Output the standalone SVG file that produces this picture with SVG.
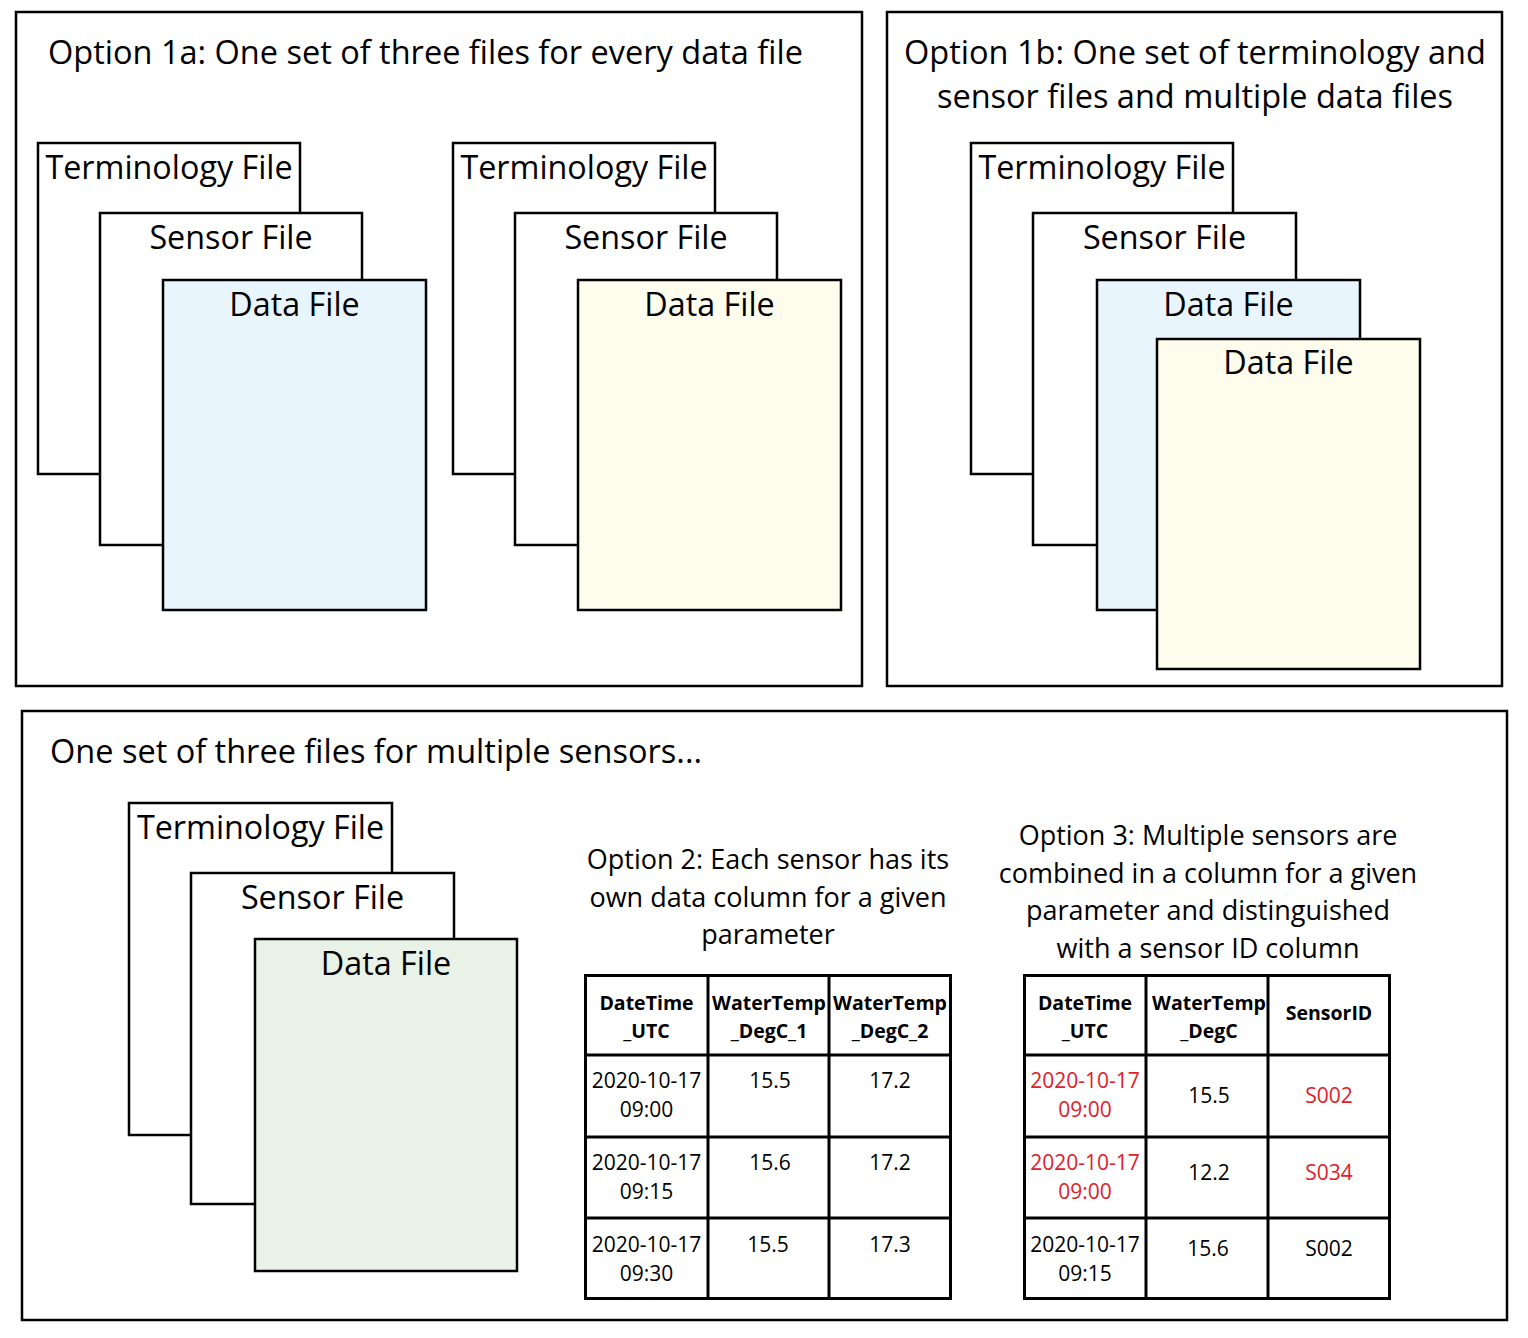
<svg xmlns="http://www.w3.org/2000/svg" width="1528" height="1338" viewBox="0 0 1528 1338">
<style>
text{font-family:"Open Sans","Liberation Sans",sans-serif;fill:#000}
.panel{fill:#fff;stroke:#000;stroke-width:2.5}
.file{stroke:#000;stroke-width:2.5}
.w{fill:#fff}.b{fill:#e9f5fd}.y{fill:#fefcec}.g{fill:#e9f2e7}
.lbl{font-size:32.3px;text-anchor:middle}
.title{font-size:32.5px}
.cap{font-size:27px;text-anchor:middle}
.grid{fill:none;stroke:#000;stroke-width:3}
.th{font-size:19.5px;font-weight:bold;text-anchor:middle}
.td{font-size:21px;text-anchor:middle}
.red{fill:#e0202a}
</style>
<rect width="1528" height="1338" fill="#fff"/>

<g id="panel-1a">
<rect class="panel" x="16" y="12" width="846" height="674"/>
<text class="title" x="48" y="64">Option 1a: One set of three files for every data file</text>
</g>
<g id="p1a-term1"><rect class="file w" x="38" y="143" width="262" height="331"/><text class="lbl" x="169" y="179">Terminology File</text></g>
<g id="p1a-sensor1"><rect class="file w" x="100" y="213" width="262" height="332"/><text class="lbl" x="231" y="249">Sensor File</text></g>
<g id="p1a-data1"><rect class="file b" x="163" y="280" width="263" height="330"/><text class="lbl" x="294.5" y="316">Data File</text></g>
<g id="p1a-term2"><rect class="file w" x="453" y="143" width="262" height="331"/><text class="lbl" x="584" y="179">Terminology File</text></g>
<g id="p1a-sensor2"><rect class="file w" x="515" y="213" width="262" height="332"/><text class="lbl" x="646" y="249">Sensor File</text></g>
<g id="p1a-data2"><rect class="file y" x="578" y="280" width="263" height="330"/><text class="lbl" x="709.5" y="316">Data File</text></g>

<g id="panel-1b">
<rect class="panel" x="887" y="12" width="615" height="674"/>
<text class="title" x="1195" y="64" text-anchor="middle">Option 1b: One set of terminology and</text>
<text class="title" x="1195" y="108" text-anchor="middle">sensor files and multiple data files</text>
</g>
<g id="p1b-term"><rect class="file w" x="971" y="143" width="262" height="331"/><text class="lbl" x="1102" y="179">Terminology File</text></g>
<g id="p1b-sensor"><rect class="file w" x="1033" y="213" width="263" height="332"/><text class="lbl" x="1164.5" y="249">Sensor File</text></g>
<g id="p1b-data1"><rect class="file b" x="1097" y="280" width="263" height="330"/><text class="lbl" x="1228.5" y="316">Data File</text></g>
<g id="p1b-data2"><rect class="file y" x="1157" y="339" width="263" height="330"/><text class="lbl" x="1288.5" y="374">Data File</text></g>

<g id="panel-multi">
<rect class="panel" x="22" y="711" width="1485" height="609"/>
<text class="title" x="50" y="763">One set of three files for multiple sensors...</text>
</g>
<g id="p3-term"><rect class="file w" x="129" y="803" width="263" height="332"/><text class="lbl" x="260.5" y="839">Terminology File</text></g>
<g id="p3-sensor"><rect class="file w" x="191" y="873" width="263" height="331"/><text class="lbl" x="322.5" y="909">Sensor File</text></g>
<g id="p3-data"><rect class="file g" x="255" y="939" width="262" height="332"/><text class="lbl" x="386" y="975">Data File</text></g>

<g id="option2">
<text class="cap" x="768" y="869">Option 2: Each sensor has its</text>
<text class="cap" x="768" y="907">own data column for a given</text>
<text class="cap" x="768" y="944">parameter</text>
<rect class="grid" x="585.5" y="975.5" width="365" height="323"/>
<path class="grid" d="M708 975V1299M829 975V1299M585 1055H951M585 1137H951M585 1218H951"/>
<text class="th" x="646.5" y="1010">DateTime</text><text class="th" x="646.5" y="1038">_UTC</text>
<text class="th" x="769" y="1010">WaterTemp</text><text class="th" x="769" y="1038">_DegC_1</text>
<text class="th" x="890" y="1010">WaterTemp</text><text class="th" x="890" y="1038">_DegC_2</text>
<text class="td" x="646.5" y="1088">2020-10-17</text><text class="td" x="646.5" y="1117">09:00</text>
<text class="td" x="770" y="1088">15.5</text><text class="td" x="890" y="1088">17.2</text>
<text class="td" x="646.5" y="1170">2020-10-17</text><text class="td" x="646.5" y="1199">09:15</text>
<text class="td" x="770" y="1170">15.6</text><text class="td" x="890" y="1170">17.2</text>
<text class="td" x="646.5" y="1252">2020-10-17</text><text class="td" x="646.5" y="1281">09:30</text>
<text class="td" x="768" y="1252">15.5</text><text class="td" x="890" y="1252">17.3</text>
</g>

<g id="option3">
<text class="cap" x="1208" y="845">Option 3: Multiple sensors are</text>
<text class="cap" x="1208" y="883">combined in a column for a given</text>
<text class="cap" x="1208" y="920">parameter and distinguished</text>
<text class="cap" x="1208" y="958">with a sensor ID column</text>
<rect class="grid" x="1024.5" y="975.5" width="365" height="323"/>
<path class="grid" d="M1146 975V1299M1268 975V1299M1024 1055H1390M1024 1137H1390M1024 1218H1390"/>
<text class="th" x="1085" y="1010">DateTime</text><text class="th" x="1085" y="1038">_UTC</text>
<text class="th" x="1209" y="1010">WaterTemp</text><text class="th" x="1209" y="1038">_DegC</text>
<text class="th" x="1329" y="1020">SensorID</text>
<text class="td red" x="1085" y="1088">2020-10-17</text><text class="td red" x="1085" y="1117">09:00</text>
<text class="td" x="1209" y="1103">15.5</text><text class="td red" x="1329" y="1103">S002</text>
<text class="td red" x="1085" y="1170">2020-10-17</text><text class="td red" x="1085" y="1199">09:00</text>
<text class="td" x="1209" y="1180">12.2</text><text class="td red" x="1329" y="1180">S034</text>
<text class="td" x="1085" y="1252">2020-10-17</text><text class="td" x="1085" y="1281">09:15</text>
<text class="td" x="1208" y="1256">15.6</text><text class="td" x="1329" y="1256">S002</text>
</g>

<g id="connectors"/>
</svg>
